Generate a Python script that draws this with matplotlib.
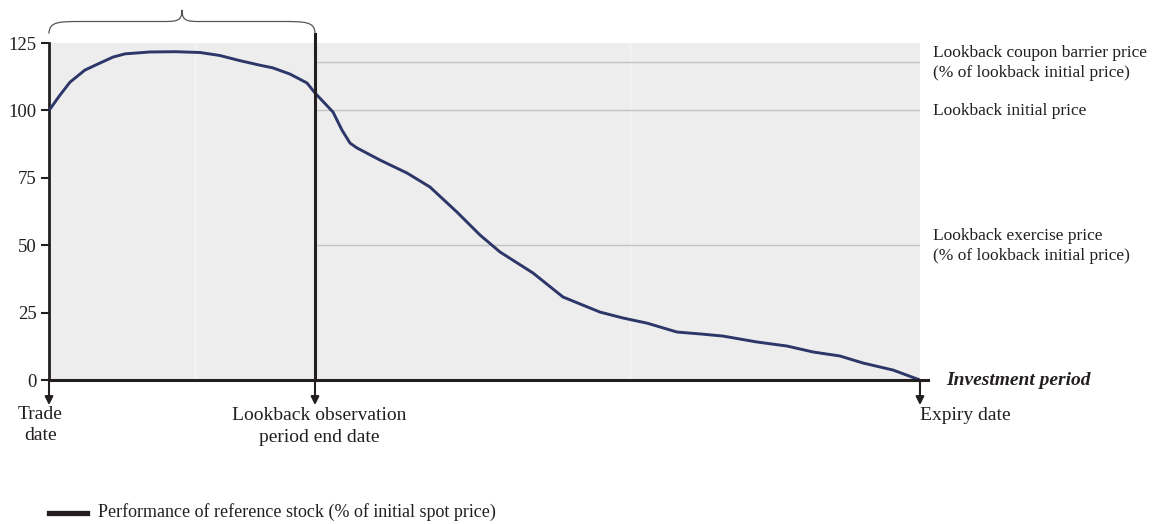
import matplotlib
matplotlib.use("Agg")
import matplotlib.pyplot as plt
from matplotlib.path import Path
from matplotlib.patches import PathPatch

plt.rcParams['font.family'] = ['Liberation Serif', 'DejaVu Serif']

# ---- data ----
time_pct = [0, 1.26, 2.41, 4.13, 5.86, 7.35, 8.73, 11.6, 14.47, 17.34, 19.6,
            21.9, 24.2, 25.7, 27.67, 29.62, 30.54, 32.61, 33.64, 34.56, 35.36,
            38.0, 41.1, 43.74, 46.84, 49.48, 51.78, 55.57, 59.01, 63.26, 65.9,
            68.66, 72.1, 74.74, 77.38, 81.29, 84.73, 87.72, 90.82, 93.46, 96.9,
            100]
performance = [100, 105.7, 110.5, 115, 117.6, 119.8, 121, 121.7, 121.8, 121.5,
               120.4, 118.5, 116.8, 115.8, 113.5, 110.2, 106.5, 99.4, 92.7,
               87.9, 86.1, 81.6, 76.8, 71.6, 62.3, 53.8, 47.5, 39.7, 30.8, 25.2,
               23.0, 21.1, 17.8, 17.1, 16.3, 14.1, 12.6, 10.4, 8.9, 6.3, 3.7, 0]
lookback_end = 30.54
coupon_barrier = 118
initial_price = 100
exercise_price = 50
y_ticks = [0, 25, 50, 75, 100, 125]
level_labels = ["Lookback coupon barrier price\n(% of lookback initial price)",
                "Lookback initial price",
                "Lookback exercise price\n(% of lookback initial price)"]
date_labels = ["Trade\ndate", "Lookback observation\nperiod end date", "Expiry date"]
legend_label = "Performance of reference stock (% of initial spot price)"

txt = '#231f20'
fig = plt.figure(figsize=(11.53, 5.24), dpi=100)
ax = fig.add_axes([0.0425, 0.2748, 0.7554, 0.643])
ax.set_xlim(0, 100)
ax.set_ylim(0, 125)
ax.set_facecolor('#ededed')
for s in ['top', 'right', 'bottom']:
    ax.spines[s].set_visible(False)
ax.spines['left'].set_linewidth(2)
ax.spines['left'].set_color(txt)
ax.set_xticks([])
ax.set_yticks(y_ticks)
ax.set_yticklabels([str(t) for t in y_ticks], fontsize=13.5, color=txt)
ax.tick_params(axis='y', length=6, width=1.5, color=txt, pad=3)

# faint vertical white lines
for xv in [16.8, 66.7]:
    ax.axvline(xv, color='#f6f6f6', lw=1, zorder=1)

# reference level lines
for lv in [coupon_barrier, initial_price, exercise_price]:
    ax.plot([lookback_end, 100], [lv, lv], color='#c4c4c4', lw=1, zorder=2)

# performance line
ax.plot(time_pct, performance, color='#2c3668', lw=2.1, zorder=4,
        solid_capstyle='round', solid_joinstyle='round')

# lookback end vertical line
ax.plot([lookback_end, lookback_end], [0, 128.3], color=txt, lw=2.2,
        clip_on=False, zorder=5)

# bottom axis line
ax.plot([0, 100.9], [0, 0], color=txt, lw=2.2, clip_on=False, zorder=5)

# arrows
for xv in [0, lookback_end, 100]:
    ax.annotate('', xy=(xv, -9.3), xytext=(xv, 0),
                arrowprops=dict(arrowstyle='-|>', color=txt, lw=1.5,
                                mutation_scale=12, shrinkA=0, shrinkB=0),
                annotation_clip=False)

# brace
x0, x1 = 0, lookback_end
xm = (x0 + x1) / 2
yb, ym, yt = 128.5, 133.0, 137.3
w = 3.8
wt = 2.2
verts = [(x0, yb), (x0, ym), (x0 + w * 0.3, ym), (x0 + w, ym),
         (xm - wt, ym),
         (xm - wt * 0.3, ym), (xm, ym), (xm, yt),
         (xm, ym), (xm + wt * 0.3, ym), (xm + wt, ym),
         (x1 - w, ym),
         (x1 - w * 0.3, ym), (x1, ym), (x1, yb)]
codes = [Path.MOVETO, Path.CURVE4, Path.CURVE4, Path.CURVE4,
         Path.LINETO,
         Path.CURVE4, Path.CURVE4, Path.CURVE4,
         Path.CURVE4, Path.CURVE4, Path.CURVE4,
         Path.LINETO,
         Path.CURVE4, Path.CURVE4, Path.CURVE4]
brace = PathPatch(Path(verts, codes), facecolor='none', edgecolor='#555555',
                  lw=0.9, clip_on=False)
ax.add_patch(brace)

# right labels
for lv, lab in zip([coupon_barrier, initial_price, exercise_price], level_labels):
    ax.text(101.5, lv - 0.3, lab, ha='left', va='center', fontsize=12.5,
            color=txt, linespacing=1.3, clip_on=False)

ax.text(103.0, 0, "Investment period", ha='left', va='center', fontsize=14,
        fontweight='bold', fontstyle='italic', color=txt)

# date labels
ax.text(-1.0, -9.8, date_labels[0], ha='center', va='top', fontsize=14,
        color=txt, linespacing=1.25)
ax.text(lookback_end + 0.5, -10, date_labels[1], ha='center', va='top',
        fontsize=14, color=txt, linespacing=1.35)
ax.text(100, -10, date_labels[2], ha='left', va='top', fontsize=14, color=txt)

# legend
fig.lines.append(plt.Line2D([49 / 1153, 87 / 1153], [1 - 513 / 524, 1 - 513 / 524],
                            transform=fig.transFigure, color=txt, lw=3.8))
fig.text(98 / 1153, 1 - 512 / 524, legend_label, ha='left', va='center',
         fontsize=13, color=txt)

fig.savefig('out.png', dpi=100)
